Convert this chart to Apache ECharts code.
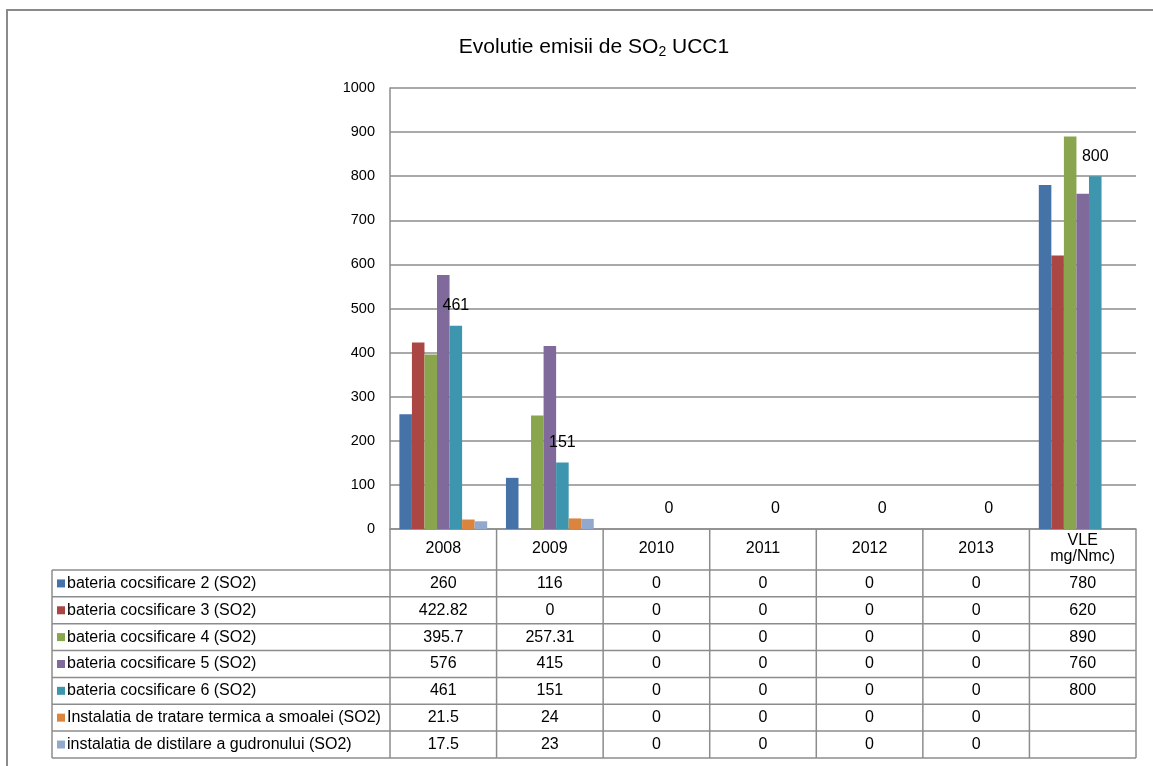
<!DOCTYPE html>
<html>
<head>
<meta charset="utf-8">
<script src="https://cdn.jsdelivr.net/npm/echarts@6/dist/echarts.min.js"></script>
<style>
  html, body { margin: 0; padding: 0; background: #fff; }
  #chart { width: 1153px; height: 766px; }
</style>
</head>
<body>
<div id="chart"></div>
<script>
// Emission years plus the limit-value column
const categories = ['2008', '2009', '2010', '2011', '2012', '2013', 'VLE\nmg/Nmc)'];

const seriesNames = [
  'bateria cocsificare 2 (SO2)',
  'bateria cocsificare 3 (SO2)',
  'bateria cocsificare 4 (SO2)',
  'bateria cocsificare 5 (SO2)',
  'bateria cocsificare 6 (SO2)',
  'Instalatia de tratare termica a smoalei (SO2)',
  'instalatia de distilare a gudronului (SO2)'
];

const baterie2 = [260, 116, 0, 0, 0, 0, 780];
const baterie3 = [422.82, 0, 0, 0, 0, 0, 620];
const baterie4 = [395.7, 257.31, 0, 0, 0, 0, 890];
const baterie5 = [576, 415, 0, 0, 0, 0, 760];
const baterie6 = [461, 151, 0, 0, 0, 0, 800];
const smoala   = [21.5, 24, 0, 0, 0, 0, null];
const gudron   = [17.5, 23, 0, 0, 0, 0, null];

const yTicks = [0, 100, 200, 300, 400, 500, 600, 700, 800, 900, 1000];

const colors = ['#4572A7', '#AA4643', '#89A54E', '#80699B', '#3D96AE', '#DB843D', '#92A8CD'];
const allSeries = [baterie2, baterie3, baterie4, baterie5, baterie6, smoala, gudron];

const FONT = '"Liberation Sans", Arial, sans-serif';
const FS = 16;       // table, header and value labels
const FS_AXIS = 14.5; // value-axis labels
const LINE = '#8c8c8c';

const chart = echarts.init(document.getElementById('chart'), null, { renderer: 'canvas' });

const series = allSeries.map((data, i) => ({
  name: seriesNames[i],
  type: 'bar',
  data: data,
  barGap: '0%',
  barCategoryGap: '17.6%',
  itemStyle: { color: colors[i] },
  label: i === 4 ? {
    show: true,
    position: 'top',
    distance: 12,
    color: '#000',
    fontFamily: FONT,
    fontSize: FS
  } : { show: false }
}));

chart.setOption({
  animation: false,
  title: {
    text: '{a|Evolutie emisii de SO}{s|2}{a| UCC1}',
    left: 589,
    top: 30,
    textAlign: 'center',
    textStyle: {
      rich: {
        a: { fontFamily: FONT, fontSize: 21, fontWeight: 'normal', color: '#000' },
        s: { fontFamily: FONT, fontSize: 14, fontWeight: 'normal', color: '#000', padding: [10, 0, 0, 0] }
      }
    }
  },
  grid: { left: 390, right: 17, top: 88, bottom: 237, containLabel: false },
  xAxis: {
    type: 'category',
    data: categories,
    axisLine: { show: true, lineStyle: { color: LINE, width: 1.5 } },
    axisTick: { show: false },
    axisLabel: {
      color: '#000',
      fontFamily: FONT,
      fontSize: FS,
      margin: 20,
      verticalAlign: 'middle',
      lineHeight: 16,
      interval: 0
    }
  },
  yAxis: {
    type: 'value',
    min: yTicks[0],
    max: yTicks[yTicks.length - 1],
    interval: 100,
    axisLine: { show: true, lineStyle: { color: LINE, width: 1.5 } },
    axisTick: { show: false },
    splitLine: { lineStyle: { color: LINE, width: 1.5 } },
    axisLabel: {
      color: '#000', fontFamily: FONT, fontSize: FS_AXIS, margin: 15,
      formatter: v => String(v)
    }
  },
  series: series
});

// Data table under the plot, laid out from the axis positions
function buildTable() {
  const c0 = chart.convertToPixel({ xAxisIndex: 0 }, 0);
  const c1 = chart.convertToPixel({ xAxisIndex: 0 }, 1);
  const colW = c1 - c0;
  const xStart = c0 - colW / 2;
  const xEnd = xStart + colW * categories.length;
  const y0 = chart.convertToPixel({ yAxisIndex: 0 }, 0);
  const headerBottom = y0 + 41;
  const rowH = 26.85;
  const tableLeft = 52;
  const tableBottom = headerBottom + rowH * seriesNames.length;

  const g = [];
  const line = (x1, y1, x2, y2) => g.push({
    type: 'line', silent: true, z: 10,
    shape: { x1, y1, x2, y2 },
    style: { stroke: LINE, lineWidth: 1.5 }
  });

  // outer chart frame
  g.push({
    type: 'rect', silent: true,
    shape: { x: 7, y: 10, width: 1200, height: 800 },
    style: { fill: 'none', stroke: '#8a8a8a', lineWidth: 2 }
  });

  // column separators (header + body)
  for (let k = 0; k <= categories.length; k++) {
    const x = xStart + k * colW;
    line(x, y0, x, tableBottom);
  }
  // left edge of the body
  line(tableLeft, headerBottom, tableLeft, tableBottom);
  // row separators
  for (let r = 0; r <= seriesNames.length; r++) {
    const y = headerBottom + r * rowH;
    line(tableLeft, y, xEnd, y);
  }

  seriesNames.forEach((name, r) => {
    const yc = headerBottom + r * rowH + rowH / 2;
    g.push({
      type: 'rect', silent: true, z: 11,
      shape: { x: 57, y: yc - 4, width: 8, height: 8 },
      style: { fill: colors[r] }
    });
    g.push({
      type: 'text', silent: true, z: 11,
      style: { text: name, x: 67, y: yc, align: 'left', verticalAlign: 'middle',
               font: FS + 'px ' + FONT, fill: '#000' }
    });
    allSeries[r].forEach((v, k) => {
      if (v === null) return;
      g.push({
        type: 'text', silent: true, z: 11,
        style: { text: String(v), x: xStart + (k + 0.5) * colW, y: yc,
                 align: 'center', verticalAlign: 'middle',
                 font: FS + 'px ' + FONT, fill: '#000' }
      });
    });
  });

  chart.setOption({ graphic: g });
}
buildTable();
</script>
</body>
</html>
